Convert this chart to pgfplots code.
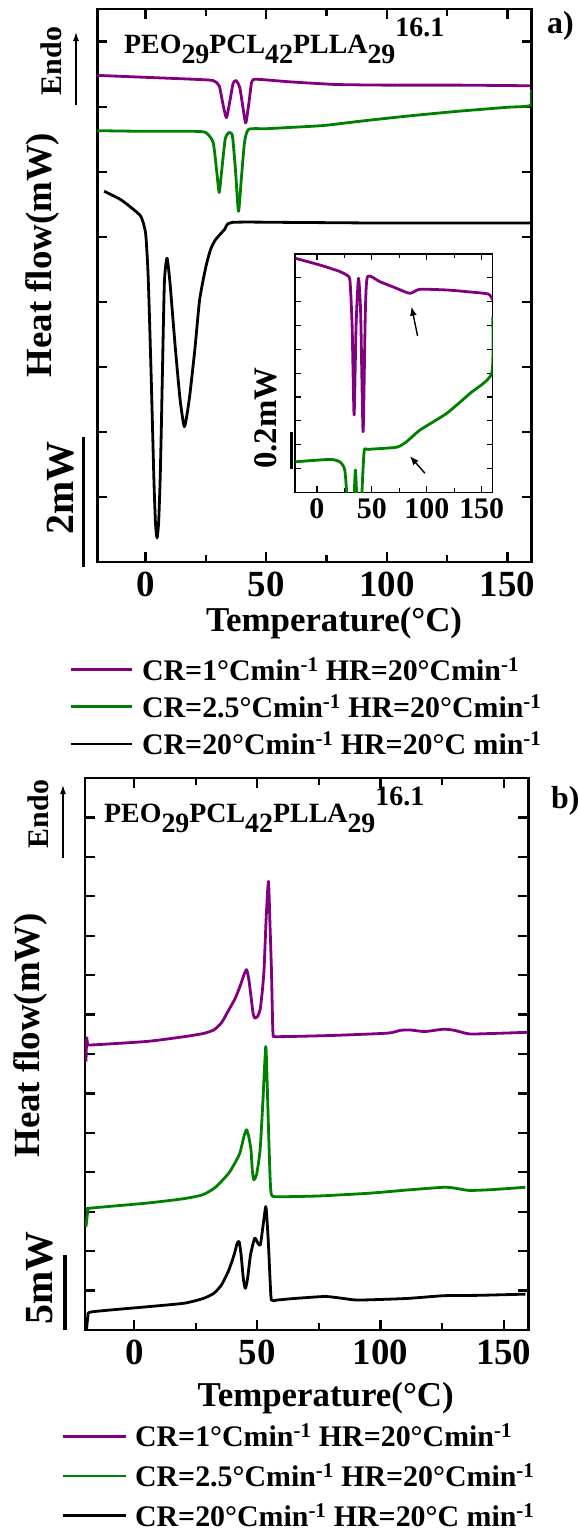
\documentclass[border=0pt]{standalone}
\usepackage{fontspec}
\setmainfont{Liberation Serif}
\usepackage{pgfplots}
\pgfplotsset{compat=1.18}
\usetikzlibrary{arrows.meta}

\definecolor{cpurple}{RGB}{128,0,128}
\definecolor{cgreen}{RGB}{0,128,0}

\newcommand{\fs}[1]{\bfseries\fontsize{#1}{#1}\selectfont}
\newcommand{\cop}{PEO\raisebox{-10bp}{29}PCL\raisebox{-10bp}{42}PLLA\raisebox{-10bp}{29}\raisebox{16.5bp}{16.1}}
\newcommand{\inv}{\textsuperscript{-1}}

\pgfplotsset{
  dsc/.style={
    scale only axis,
    xmin=-20, xmax=160,
    xtick={0,50,100,150},
    minor xtick={25,75,125},
    tick align=inside,
    axis line style={line width=2.6bp},
    tick style={black, line width=2.2bp},
    major tick length=10bp,
    minor tick length=7bp,
    yticklabels={},
    /pgf/number format/assume math mode=true,
    tick label style={font=\fs{37}},
    xticklabel style={anchor=center, yshift=-22.5bp},
    legend cell align=left,
    legend style={draw=none, fill=none, font=\fs{30}, inner sep=0pt,
      nodes={inner sep=0pt},
      /tikz/every odd column/.append style={column sep=9bp}},
  },
  trace/.style={line width=2.8bp, line join=round, smooth, tension=0.35},
}

\begin{document}
\begin{tikzpicture}
\path[use as bounding box] (0,0) rectangle (579bp,-1534bp);

% ---------------- panel a ----------------
\begin{axis}[dsc, at={(97.3bp,-562bp)}, anchor=south west,
  width=434.4bp, height=553bp,
  ymin=0, ymax=8.5, ytick={1,...,8},
  xlabel={Temperature(°C)}, ylabel={Heat flow(mW)},
  xlabel style={font=\fs{35}, at={(axis description cs:0.545,-0.110)}, anchor=center},
  ylabel style={font=\fs{37}, at={(axis description cs:-0.127,0.555)}, anchor=center},
  legend image code/.code={\draw[#1] (0bp,0bp) -- (61bp,0bp);},
  legend style={at={(axis description cs:-0.065,-0.172)}, anchor=north west, row sep=13bp}]
\addplot[trace, cpurple] coordinates {
 (-20,7.48) (0,7.45) (20,7.42) (28,7.40) (30.5,7.32) (32,7.05) (33.5,6.83) (35,7.1)
 (36.3,7.36) (37.5,7.40) (39,7.30) (40.3,7.0) (41.5,6.75) (42.8,7.05) (44,7.38)
 (46,7.42) (60,7.38) (79,7.34) (100,7.33) (130,7.33) (159.5,7.32)};
\addlegendentry{CR=1°Cmin\inv{} HR=20°Cmin\inv}
\addplot[trace, cgreen] coordinates {
 (-20,6.63) (0,6.62) (20,6.62) (25,6.60) (28,6.45) (29.5,6.0) (30.5,5.68) (31.5,6.0)
 (33,6.5) (34.5,6.60) (36,6.55) (37.3,6.0) (38.5,5.39) (39.7,5.9) (41,6.45) (42.7,6.65)
 (50,6.66) (60,6.68) (74,6.71) (90,6.78) (110,6.86) (130,6.93) (150,6.99) (159.5,7.02)
 (159.9,7.26)};
\addlegendentry{CR=2.5°Cmin\inv{} HR=20°Cmin\inv}
\addplot[trace, black] coordinates {
 (-17.2,5.70) (-10.3,5.57) (-5.7,5.44) (-1.9,5.31) (0,5.06) (0.9,4.54) (1.4,4.03)
 (1.9,3.4) (2.4,2.75) (3.0,1.9) (3.5,1.21) (4.1,0.6) (4.75,0.37) (5.4,0.6) (6.0,1.21)
 (6.5,2.0) (6.9,2.75) (7.8,4.3) (8.9,4.67) (10.1,4.3) (11.2,3.8) (12.4,3.26) (14.3,2.5)
 (16.1,2.08) (18.1,2.5) (20.4,3.26) (22.4,4.03) (25,4.54) (26.9,4.8) (28.9,4.95)
 (32.7,5.11) (35.8,5.22) (60,5.22) (100,5.21) (159.5,5.21)};
\addlegendentry{CR=20°Cmin\inv{} HR=20°C min\inv}
\end{axis}

% ---------------- inset of panel a ----------------
\begin{axis}[scale only axis, at={(295bp,-492.3bp)}, anchor=south west,
  width=197.7bp, height=238.3bp,
  xmin=-20, xmax=160, ymin=0, ymax=10,
  xtick={0,50,100,150}, minor xtick={25,75,125},
  ytick={1,...,9}, yticklabels={},
  tick align=inside, axis line style={line width=1.3bp},
  tick style={black, line width=1.2bp},
  major tick length=6bp, minor tick length=4bp,
  /pgf/number format/assume math mode=true,
  tick label style={font=\fs{30}},
  xticklabel style={anchor=center, yshift=-16.7bp}]
\addplot[trace, cpurple] coordinates {
 (-19.7,9.82) (2.5,9.54) (20,9.28) (26.8,9.12) (30,8.9) (32,7.0) (33.8,3.24) (35.6,7.0)
 (37.8,8.98) (39.8,7.5) (42,2.54) (44,7.5) (46,9.05) (57.2,8.84) (72.4,8.56) (84.6,8.35)
 (93.7,8.52) (118,8.49) (136.3,8.42) (156,8.32) (160,8.07)};
\addplot[trace, cgreen] coordinates {
 (-19.7,1.28) (11.6,1.38) (20.7,1.28) (25.3,0.94) (27.7,-0.5) (30,-3) (33.5,-0.5)
 (35,0.94) (36.5,-0.5) (38.5,-3) (40.5,-0.5) (42.9,1.70) (46.5,1.80) (72.4,1.89)
 (81.5,2.12) (93.7,2.61) (118,3.31) (139.3,4.15) (159.1,4.99) (160,7.37)};
\draw[-{Latex[length=9bp,width=7bp]}, line width=1.4bp]
  (axis cs:91.6,6.56) -- (axis cs:86.1,7.79);
\draw[-{Latex[length=9bp,width=7bp]}, line width=1.4bp]
  (axis cs:98.3,0.80) -- (axis cs:84.6,1.52);
\end{axis}

% annotations of panel a
\node[anchor=base west, inner sep=0pt] at (124bp,-53bp) {\fs{28}\cop};
\node[anchor=base west, inner sep=0pt] at (547bp,-33bp) {\fs{32}a)};
\node[rotate=90, inner sep=0pt] at (51bp,-61bp) {\fs{30}Endo};
\draw[-{Latex[length=9bp,width=6bp]}, line width=1.2bp] (76bp,-105bp) -- (76bp,-32bp);
\node[rotate=90, inner sep=0pt] at (61bp,-488bp) {\fs{40}2mW};
\draw[line width=3.5bp] (83.3bp,-437bp) -- (83.3bp,-567bp);
\node[rotate=90, inner sep=0pt] at (266bp,-418bp) {\fs{33}0.2mW};
\draw[line width=3bp] (291bp,-431.7bp) -- (291bp,-469.3bp);

% ---------------- panel b ----------------
\begin{axis}[dsc, at={(85bp,-1330bp)}, anchor=south west,
  width=443.3bp, height=552bp,
  ymin=0, ymax=14, ytick={1,...,13},
  xlabel={Temperature(°C)}, ylabel={Heat flow(mW)},
  xlabel style={font=\fs{35}, at={(axis description cs:0.543,-0.123)}, anchor=center},
  ylabel style={font=\fs{37}, at={(axis description cs:-0.122,0.534)}, anchor=center},
  legend image code/.code={\draw[#1] (0bp,0bp) -- (63.5bp,0bp);},
  legend style={at={(axis description cs:-0.054,-0.170)}, anchor=north west, row sep=15.5bp,
    /tikz/every odd column/.append style={column sep=7.5bp}}]
\addplot[trace, cpurple] coordinates {
 (-19.6,6.81) (-19.3,7.41) (-18.9,7.25) (-17.3,7.23) (5.3,7.32) (20.3,7.44) (28,7.52)
 (32.3,7.61) (35.5,7.8) (38.4,8.12) (40.9,8.4) (42.9,8.71) (44.5,9.0) (45.6,9.14)
 (46.5,8.9) (47.4,8.46) (48.2,8.05) (48.9,7.91) (50,7.95) (51.1,8.12) (52,8.6)
 (52.7,9.14) (53.6,10.5) (54.5,11.38) (55.1,10.3) (55.7,9.14) (56.1,8.0) (56.4,7.49)
 (57.9,7.44) (80,7.47) (103,7.53) (108,7.6) (112,7.61) (118,7.57) (125.6,7.63)
 (130,7.6) (136,7.51) (145,7.52) (159.5,7.55)};
\addlegendentry{CR=1°Cmin\inv{} HR=20°Cmin\inv}
\addplot[trace, cgreen] coordinates {
 (-19.6,2.62) (-18.8,3.05) (-18,3.09) (5.3,3.22) (20,3.33) (27.8,3.43) (33,3.62)
 (38.4,3.98) (41,4.25) (42.9,4.49) (44.5,4.9) (45.6,5.08) (46.5,4.9) (47.4,4.57)
 (48,4.0) (48.6,3.81) (49.7,3.95) (51.1,4.57) (52.2,5.76) (53.4,7.19) (54,6.2)
 (54.6,4.91) (55.2,3.8) (55.7,3.43) (57.9,3.38) (75,3.40) (95.5,3.47) (110.6,3.55)
 (125.6,3.62) (130,3.6) (136,3.54) (145,3.56) (158.8,3.62)};
\addlegendentry{CR=2.5°Cmin\inv{} HR=20°Cmin\inv}
\addplot[trace, black] coordinates {
 (-19.4,0.0) (-18.8,0.35) (-17.3,0.46) (5.3,0.59) (20.3,0.68) (28,0.8) (32.3,0.93)
 (35.5,1.15) (38.4,1.52) (40.5,1.9) (41.8,2.2) (42.6,2.24) (43.4,1.9) (44.3,1.3)
 (45.1,1.06) (46,1.3) (47.2,1.9) (48.9,2.33) (50.2,2.2) (51.2,2.16) (52.2,2.6)
 (53.4,3.13) (54,2.7) (54.6,2.03) (55.2,1.2) (55.7,0.76) (57.9,0.76) (65,0.8)
 (77.5,0.85) (85,0.8) (91,0.76) (110.6,0.80) (125.6,0.87) (140,0.88) (158.8,0.91)};
\addlegendentry{CR=20°Cmin\inv{} HR=20°C min\inv}
\end{axis}

% annotations of panel b
\node[anchor=base west, inner sep=0pt] at (104bp,-822bp) {\fs{28}\cop};
\node[anchor=base west, inner sep=0pt] at (551bp,-808bp) {\fs{32}b)};
\node[rotate=90, inner sep=0pt] at (38bp,-814bp) {\fs{30}Endo};
\draw[-{Latex[length=9bp,width=6bp]}, line width=1.2bp] (63bp,-858bp) -- (63bp,-785bp);
\node[rotate=90, inner sep=0pt] at (40bp,-1278bp) {\fs{40}5mW};
\draw[line width=3.5bp] (65bp,-1255bp) -- (65bp,-1330bp);
\end{tikzpicture}
\end{document}
